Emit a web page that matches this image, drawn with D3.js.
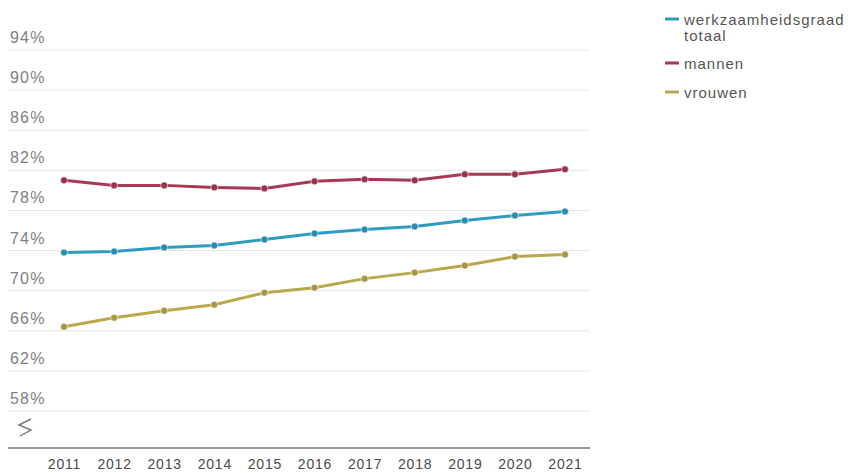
<!DOCTYPE html>
<html>
<head>
<meta charset="utf-8">
<script src="https://cdn.jsdelivr.net/npm/d3@7"></script>
<style>
  body { margin: 0; background: #fff; }
  text { font-family: "Liberation Sans", Arial, sans-serif; }
</style>
</head>
<body>
<svg id="chart" width="854" height="473"></svg>
<script>
// data
var years = [2011, 2012, 2013, 2014, 2015, 2016, 2017, 2018, 2019, 2020, 2021];
var totaal = [73.8, 73.9, 74.3, 74.5, 75.1, 75.7, 76.1, 76.4, 77.0, 77.5, 77.9];
var mannen = [81.0, 80.5, 80.5, 80.3, 80.2, 80.9, 81.1, 81.0, 81.6, 81.6, 82.1];
var vrouwen = [66.4, 67.3, 68.0, 68.6, 69.8, 70.3, 71.2, 71.8, 72.5, 73.4, 73.6];
var yTicks = [58, 62, 66, 70, 74, 78, 82, 86, 90, 94];
var seriesNames = ["werkzaamheidsgraad totaal", "mannen", "vrouwen"];
var colors = ["#2d9cc0", "#a63a56", "#b9a84c"];

var svg = d3.select("#chart");

var x = d3.scalePoint()
  .domain(years)
  .range([64, 565]);

var y = d3.scaleLinear()
  .domain([58, 94])
  .range([411, 50]);

// gridlines + labels
var grid = svg.append("g");
grid.selectAll("line")
  .data(yTicks)
  .enter().append("line")
  .attr("x1", 8).attr("x2", 590)
  .attr("y1", function(d) { return y(d); })
  .attr("y2", function(d) { return y(d); })
  .attr("stroke", "#e6e6e6")
  .attr("stroke-width", 1);

grid.selectAll("text")
  .data(yTicks)
  .enter().append("text")
  .attr("x", 10)
  .attr("y", function(d) { return y(d) - 7; })
  .attr("fill", "#808080")
  .attr("font-size", 16)
  .attr("letter-spacing", 1.2)
  .text(function(d) { return d + "%"; });

// axis break symbol
svg.append("path")
  .attr("d", "M31,419 L19,425 L31,430 L20,436")
  .attr("fill", "none")
  .attr("stroke", "#777")
  .attr("stroke-width", 1.4);

// x axis
var xAxis = d3.axisBottom(x).tickSize(0).tickPadding(11);
var gx = svg.append("g")
  .attr("transform", "translate(0,448)")
  .call(xAxis);
gx.select(".domain").remove();
gx.append("line")
  .attr("x1", 8).attr("x2", 590)
  .attr("stroke", "#999").attr("stroke-width", 2);
gx.selectAll(".tick text")
  .attr("fill", "#4a4a4a")
  .attr("font-size", 14)
  .attr("letter-spacing", 0.8)
  .attr("font-family", "Liberation Sans, Arial, sans-serif");

// lines
var data = [totaal, mannen, vrouwen];
var line = d3.line()
  .x(function(d, i) { return x(years[i]); })
  .y(function(d) { return y(d); });

var series = svg.selectAll(".series")
  .data(data)
  .enter().append("g")
  .attr("class", "series");

series.append("path")
  .attr("d", line)
  .attr("fill", "none")
  .attr("stroke", "#fff")
  .attr("stroke-opacity", 0.8)
  .attr("stroke-width", 5);

series.append("path")
  .attr("d", line)
  .attr("fill", "none")
  .attr("stroke", function(d, i) { return colors[i]; })
  .attr("stroke-width", 3);

series.each(function(vals, si) {
  d3.select(this).selectAll("circle")
    .data(vals)
    .enter().append("circle")
    .attr("cx", function(d, i) { return x(years[i]); })
    .attr("cy", function(d) { return y(d); })
    .attr("r", 3.5)
    .attr("fill", d3.color(colors[si]).darker(0.3))
    .attr("stroke", "#fff")
    .attr("stroke-opacity", 0.6)
    .attr("stroke-width", 1);
});

// legend
var legendRows = [
  { lines: ["werkzaamheidsgraad", "totaal"], y: 19 },
  { lines: ["mannen"], y: 63 },
  { lines: ["vrouwen"], y: 92 }
];
var legend = svg.append("g");
legendRows.forEach(function(r, i) {
  legend.append("line")
    .attr("x1", 665).attr("x2", 679)
    .attr("y1", r.y).attr("y2", r.y)
    .attr("stroke", colors[i])
    .attr("stroke-width", 3);
  var t = legend.append("text")
    .attr("x", 684)
    .attr("y", r.y + 6)
    .attr("fill", "#555")
    .attr("font-size", 15)
    .attr("letter-spacing", 1);
  r.lines.forEach(function(s, j) {
    t.append("tspan")
      .attr("x", 684)
      .attr("dy", j === 0 ? 0 : 16)
      .text(s);
  });
});
</script>
</body>
</html>
